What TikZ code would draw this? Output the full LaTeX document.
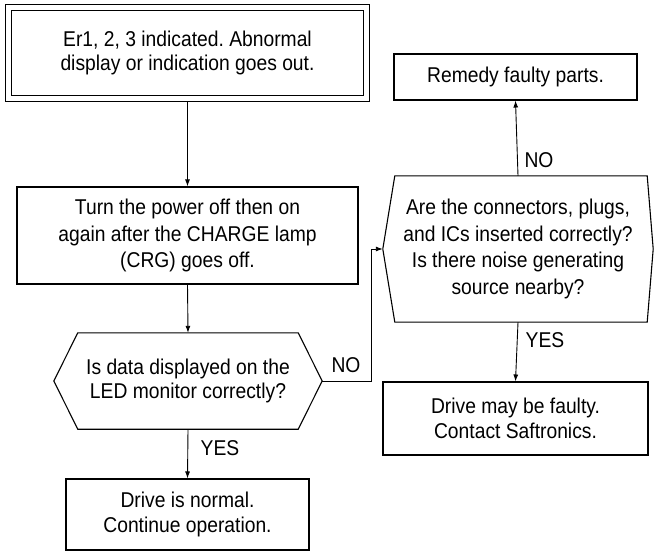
\documentclass[tikz,border=0pt]{standalone}
\usepackage{fontspec}
\setmainfont[FakeStretch=0.9]{Liberation Sans}
\frenchspacing
\usetikzlibrary{calc,arrows.meta}

\tikzset{
  box/.style={draw, line width=1.1pt, align=center, inner sep=0pt},
  hexbox/.style={align=center, inner sep=0pt},
  flow/.style={-{Latex[length=7pt,width=5pt]}, line width=0.9pt},
  lbl/.style={inner sep=0pt}
}

% hexagon round a text node: #1 node, #2 left cut, #3 right cut
\newcommand{\hexframe}[3]{%
  \draw[line width=1.1pt] (#1.west) -- ([xshift=#2]#1.north west)
    -- ([xshift=-#3]#1.north east) -- (#1.east)
    -- ([xshift=-#3]#1.south east) -- ([xshift=#2]#1.south west) -- cycle;}

\begin{document}
\begin{tikzpicture}[x=1bp, y=-1bp, font=\fontsize{21.5}{25}\selectfont]
  \useasboundingbox (0,0) rectangle (654,552);

  % left column
  \node[box, double, double distance=5.5pt, line width=1pt, outer sep=3.5bp,
        minimum width=358bp, minimum height=90.5bp] (start) at (187.5,53)
    {Er1, 2, 3 indicated. Abnormal\\display or indication goes out.};
  \node[box, font=\fontsize{21.5}{27}\selectfont,
        minimum width=341bp, minimum height=97bp] (power) at (187.5,235.5)
    {Turn the power off then on\\again after the CHARGE lamp\\(CRG) goes off.};
  \node[hexbox, minimum width=268bp, minimum height=96bp] (check) at (188,381)
    {Is data displayed on the\\LED monitor correctly?};
  \hexframe{check}{24bp}{24bp}
  \node[box, minimum width=243bp, minimum height=71bp] (normal) at (187.5,514.5)
    {Drive is normal.\\Continue operation.};

  % right column
  \node[box, minimum width=243bp, minimum height=46bp] (remedy) at (515.5,77)
    {Remedy faulty parts.};
  \node[hexbox, font=\fontsize{21.5}{27}\selectfont,
        minimum width=270bp, minimum height=146bp] (plugs) at (518,249)
    {Are the connectors, plugs,\\and ICs inserted correctly?\\Is there noise generating\\source nearby?};
  \hexframe{plugs}{12bp}{6bp}
  \node[box, minimum width=265bp, minimum height=73bp] (fault) at (515.5,418.5)
    {Drive may be faulty.\\Contact Saftronics.};

  % connectors
  \coordinate (jog) at (371,381);
  \draw[flow] (start.south) -- (power.north);
  \draw[flow] (power.south) -- (check.north);
  \draw[flow] (check.south) -- (normal.north);
  \draw[flow] (check.east) -- (jog) |- (plugs.west);
  \draw[flow] (plugs.north) -- (remedy.south);
  \draw[flow] (plugs.south) -- (fault.north);

  % labels
  \node[lbl] (yes1) at (220,448) {YES};
  \node[lbl] (no1) at (346,365) {NO};
  \node[lbl] (no2) at (539,160) {NO};
  \node[lbl] (yes2) at (545,340) {YES};
\end{tikzpicture}
\end{document}
